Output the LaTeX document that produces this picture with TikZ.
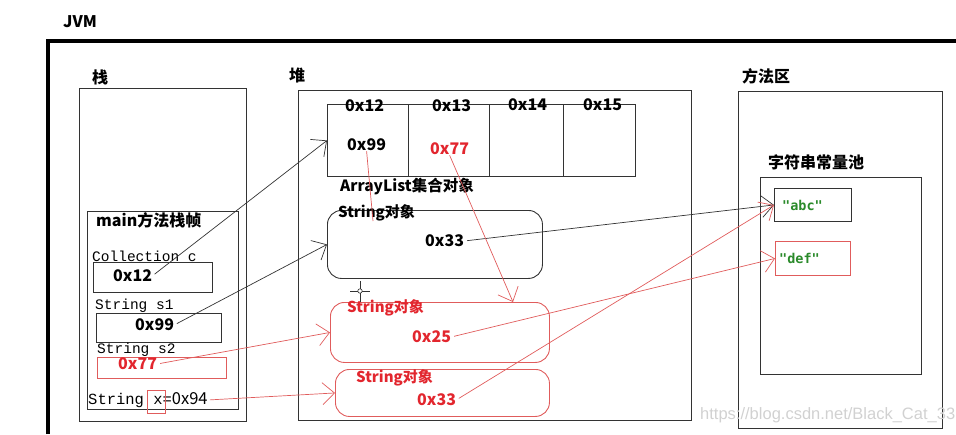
\documentclass[tikz,border=0pt]{standalone}
\usepackage{fontspec}
\setmainfont{Noto Sans CJK SC}
\setmonofont{Liberation Mono}
\newfontfamily\monob{DejaVu Sans Mono}
\newfontfamily\wmfont{Liberation Sans}
\usetikzlibrary{arrows.meta}
\definecolor{ln}{HTML}{333333}
\definecolor{rd}{HTML}{E2262E}
\definecolor{rl}{HTML}{E05C5C}
\definecolor{gr}{HTML}{2A8A2A}
\begin{document}
\begin{tikzpicture}[x=1pt,y=-1pt,
  box/.style={draw=ln, line width=0.9pt, inner sep=0pt, anchor=north west},
  rbox/.style={draw=rl, line width=0.9pt, inner sep=0pt, anchor=north west},
  bt/.style={font=\bfseries\fontsize{16}{18}\selectfont, inner sep=0pt, anchor=west},
  mt/.style={font=\ttfamily\fontsize{14.5}{16}\selectfont, inner sep=0pt, anchor=west},
  gt/.style={font=\monob\bfseries\fontsize{13.5}{15}\selectfont, text=gr, inner sep=0pt, anchor=west},
  bar/.style={-{Straight Barb[length=12pt,width=22pt]}, line width=0.7pt},
  blk/.style={bar, draw=ln},
  rar/.style={bar, draw=rl}]
\useasboundingbox (0,0) rectangle (956,434);
% JVM frame
\node[bt] (jvm) at (63,22) {JVM};
\draw[line width=4pt] (48,434) -- (48,41) -- (956,41);
% Stack
\node[bt] (stlbl) at (92,77) {栈};
\node[box, minimum width=167pt, minimum height=333pt] (stack) at (79,88) {};
\node[box, minimum width=151pt, minimum height=198pt] (frame) at (87,211) {};
\node[bt] (mainlbl) at (96,220) {main方法栈帧};
\node[mt] (clbl) at (92,256) {Collection c};
\node[box, minimum width=119pt, minimum height=30pt] (cbox) at (93,262) {};
\node[bt] (t12) at (113,276) {0x12};
\node[mt] (s1lbl) at (95,306) {String s1};
\node[box, minimum width=125pt, minimum height=29pt] (s1box) at (96,313) {};
\node[bt] (t99) at (135,325) {0x99};
\node[mt] (s2lbl) at (97,350) {String s2};
\node[rbox, minimum width=129pt, minimum height=21pt] (s2box) at (97,357) {};
\node[bt, text=rd] (t77) at (118,364) {0x77};
\node[inner sep=0pt, anchor=west] (tx) at (88,400) {{\ttfamily\fontsize{15.5}{17}\selectfont String x=}{\fontsize{16.5}{18}\selectfont 0x94}};
\node[rbox, minimum width=18pt, minimum height=23pt] (xbox) at (147,390) {};
% Heap
\node[bt] (heaplbl) at (289,75) {堆};
\node[box, minimum width=393pt, minimum height=330pt] (heap) at (298,90) {};
\node[box, minimum width=81pt, minimum height=72pt] (c1) at (327,104) {};
\node[box, minimum width=81pt, minimum height=72pt] (c2) at (408,104) {};
\node[box, minimum width=74pt, minimum height=72pt] (c3) at (489,104) {};
\node[box, minimum width=72pt, minimum height=72pt] (c4) at (563,104) {};
\node[bt] (a12) at (345,106) {0x12};
\node[bt] (a13) at (432,106) {0x13};
\node[bt] (a14) at (508,105) {0x14};
\node[bt] (a15) at (583,105) {0x15};
\node[bt] (a99) at (347,145) {0x99};
\node[bt, text=rd] (a77) at (430,149) {0x77};
\node[bt, font=\bfseries\fontsize{15.5}{17}\selectfont] (allbl) at (340,187) {ArrayList集合对象};
\node[box, rounded corners=14pt, minimum width=215pt, minimum height=68pt] (sb1) at (327,210) {};
\node[bt, font=\bfseries\fontsize{15}{17}\selectfont] (sl1) at (338,213) {String对象};
\node[bt] (o33) at (425,241) {0x33};
\node[rbox, rounded corners=14pt, minimum width=219pt, minimum height=60pt] (sb2) at (330,302) {};
\node[bt, text=rd, font=\bfseries\fontsize{15}{17}\selectfont] (sl2) at (347,308) {String对象};
\node[bt, text=rd] (o25) at (412,337) {0x25};
\node[rbox, rounded corners=14pt, minimum width=214pt, minimum height=47pt] (sb3) at (335,369) {};
\node[bt, text=rd, font=\bfseries\fontsize{15}{17}\selectfont] (sl3) at (356,378) {String对象};
\node[bt, text=rd] (o33r) at (417,400) {0x33};
% cursor
\draw[ln, line width=0.6pt] (350,291) -- (370,291) (360,281) -- (360,302);
\draw[ln, line width=0.6pt, fill=white] (360,291) circle (2.2pt);
% Method area
\node[bt] (malbl) at (742,76) {方法区};
\node[box, minimum width=204pt, minimum height=337pt] (ma) at (738,91) {};
\node[bt] (pllbl) at (768,162) {字符串常量池};
\node[box, minimum width=161pt, minimum height=197pt] (pool) at (760,177) {};
\node[box, minimum width=77pt, minimum height=33pt] (abc) at (774,188) {};
\node[gt] (abct) at (782,205) {"abc"};
\node[rbox, minimum width=75pt, minimum height=34pt] (def) at (775,241) {};
\node[gt] (deft) at (779,258) {"def"};
% watermark
\node[inner sep=0pt, anchor=west, text=black!18, font=\wmfont\fontsize{16.5}{18}\selectfont] (wm) at (700,415) {https://blog.csdn.net/Black\_Cat\_33};
% connectors
\coordinate (e99) at (373,221);
\coordinate (e77) at (513,302);
\draw[blk, shorten <=3pt] (t12.east) -- (c1.west);
\draw[blk, shorten <=3pt] (t99.east) -- (sb1.west);
\draw[blk, shorten <=3pt] (o33.east) -- (abc.west);
\draw[rar, shorten <=3pt] (t77.east) -- (sb2.west);
\draw[rar, shorten <=2pt] (tx.east) -- (sb3.west);
\draw[draw=rl, line width=0.7pt] (a99.south) -- (e99);
\draw[rar] (a77.south) -- (e77);
\draw[rar, shorten <=3pt] (o25.east) -- (def.west);
\draw[rar, shorten <=3pt] (o33r.east) -- (abc.west);
\end{tikzpicture}
\end{document}
